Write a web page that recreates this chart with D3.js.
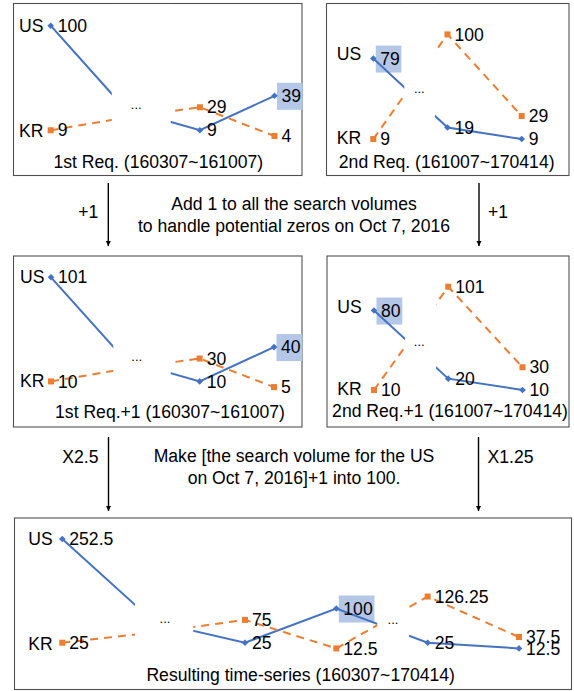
<!DOCTYPE html>
<html><head><meta charset="utf-8">
<script src="https://cdn.jsdelivr.net/npm/d3@7"></script>
<style>
body{margin:0;background:#fff}
svg{display:block}
text{font-family:"Liberation Sans",Arial,Helvetica,sans-serif;fill:#000}
</style>
</head><body>
<svg id="c" width="574" height="691"></svg>
<script>
// ---------- data ----------
const seriesNames = ["US", "KR"];
const panelTitles = [
  "1st Req. (160307~161007)",
  "2nd Req. (161007~170414)",
  "1st Req.+1 (160307~161007)",
  "2nd Req.+1 (161007~170414)",
  "Resulting time-series (160307~170414)"
];
// search volumes (points marked 0 in "shown" sit behind the "..." box)
const usReq1 = [100, 27.5, 9, 39];
const krReq1 = [9, 20, 29, 4];
const shownReq1 = [1, 0, 1, 1];
const usReq2 = [79, 19, 9];
const krReq2 = [9, 100, 29];
const shownReq2 = [1, 1, 1];
const usReq1p = [101, 28.5, 10, 40];
const krReq1p = [10, 21, 30, 5];
const usReq2p = [80, 20, 10];
const krReq2p = [10, 101, 30];
const usResult = [252.5, 71.25, 25, 100, 25, 12.5];
const krResult = [25, 47.5, 75, 12.5, 126.25, 37.5];
const shownResult = [1, 0, 1, 1, 1, 1];
const highlightIdx = [3, 0, 3, 0, 3];          // highlighted US point per panel
const stepLabelsLeft = ["+1", "X2.5"];
const stepLabelsRight = ["+1", "X1.25"];
const stepNotes = [
  ["Add 1 to all the search volumes", "to handle potential zeros on Oct 7, 2016"],
  ["Make [the search volume for the US", "on Oct 7, 2016]+1 into 100."]
];

// ---------- layout ----------
const colors = {US: "#4472C4", KR: "#ED7D31"};
const FS = 17.6;
const panels = [
  {box: [13.5, 3.5, 302, 175.5], x: [50.7, 274.5], yDom: [0, 100], yRng: [140.6, 25.7],
   us: usReq1, kr: krReq1, shown: shownReq1, gaps: [[0.818, 1.609, 1.147, 28.4]],
   labX: 19, labDy: [6, 6.5], title: [158.3, 168]},
  {box: [326.5, 3.5, 569, 175.5], x: [373.3, 521.7], yDom: [0, 100], yRng: [149.4, 34.4],
   us: usReq2, kr: krReq2, shown: shownReq2, gaps: [[0.418, 0.832, 0.62, 49.7]],
   labX: 336.7, labDy: [1.5, 4.5], title: [446.7, 168]},
  {box: [13.5, 256, 302, 427], x: [51, 274], yDom: [1, 101], yRng: [391.7, 277.3],
   us: usReq1p, kr: krReq1p, shown: shownReq1, gaps: [[0.838, 1.61, 1.153, 28.7]],
   labX: 20, labDy: [6, 6], title: [170, 418]},
  {box: [327, 256, 569, 427], x: [374, 522.5], yDom: [1, 101], yRng: [400.2, 286.7],
   us: usReq2p, kr: krReq2p, shown: shownReq2, gaps: [[0.418, 0.835, 0.61, 49.6]],
   labX: 337.3, labDy: [2.5, 5], title: [450, 416.5]},
  {box: [14.5, 518, 571.5, 689.5], x: [62.3, 519], yDom: [0, 252.5], yRng: [654.1, 539],
   us: usResult, kr: krResult, shown: shownResult,
   gaps: [[0.796, 1.434, 1.124, 71], [3.449, 3.796, 3.62, 67.5]],
   labX: 28.3, labDy: [6, 7], title: [300.7, 681]}
];

const svg = d3.select("#c");
svg.append("defs").append("marker")
  .attr("id", "ah").attr("viewBox", "0 0 10 10").attr("refX", 10).attr("refY", 5)
  .attr("markerWidth", 5.5).attr("markerHeight", 6.5).attr("orient", "auto")
  .attr("markerUnits", "userSpaceOnUse")
  .append("path").attr("d", "M0,0 L10,5 L0,10 Z").attr("fill", "#000");

const fmt = v => String(v);

panels.forEach((p, pi) => {
  const g = svg.append("g");
  const [bx0, by0, bx1, by1] = p.box;
  g.append("rect").attr("x", bx0).attr("y", by0).attr("width", bx1 - bx0).attr("height", by1 - by0)
    .attr("fill", "#fff").attr("stroke", "#505050").attr("stroke-width", 1.1);

  const n = p.us.length;
  const x = d3.scaleLinear().domain([0, n - 1]).range(p.x);
  const y = d3.scaleLinear().domain(p.yDom).range(p.yRng);

  const data = {US: p.us, KR: p.kr};

  // highlight box (drawn first, lines go over it)
  const hi = highlightIdx[pi];
  const hiLabel = g.append("text").attr("x", x(hi) + 7).attr("y", y(p.us[hi]))
    .attr("dy", "0.35em").attr("font-size", FS).text(fmt(p.us[hi])).attr("opacity", 0);
  const bb = hiLabel.node().getBBox();
  hiLabel.remove();
  g.append("rect").attr("x", bb.x - 4.5).attr("y", y(p.us[hi]) - 13)
    .attr("width", bb.width + 6).attr("height", 27).attr("fill", "#B4C7E7");

  // lines
  const line = d3.line().x((d, i) => x(i)).y(d => y(d));
  seriesNames.forEach(s => {
    g.append("path").datum(data[s]).attr("d", line).attr("fill", "none")
      .attr("stroke", colors[s]).attr("stroke-width", 2)
      .attr("stroke-dasharray", s === "KR" ? "8,6" : null);
  });
  // markers
  seriesNames.forEach(s => {
    data[s].forEach((v, i) => {
      if (!p.shown[i]) return;
      const cx = x(i), cy = y(v);
      if (s === "US") {
        g.append("path").attr("d", `M${cx},${cy - 3.3}L${cx + 3.3},${cy}L${cx},${cy + 3.3}L${cx - 3.3},${cy}Z`)
          .attr("fill", colors.US);
      } else {
        g.append("rect").attr("x", cx - 3).attr("y", cy - 3).attr("width", 6).attr("height", 6)
          .attr("fill", colors.KR);
      }
    });
  });
  // "..." boxes hiding the omitted period
  p.gaps.forEach(gp => {
    const gx0 = x(gp[0]), gx1 = x(gp[1]);
    g.append("rect").attr("x", gx0).attr("y", by0 + 1).attr("width", gx1 - gx0)
      .attr("height", p.title[1] - 17 - by0 - 1).attr("fill", "#fff");
    g.append("text").attr("x", x(gp[2])).attr("y", y(gp[3]) + 1).attr("text-anchor", "middle")
      .attr("font-size", 13).attr("fill", "#222").text("...");
  });
  // value labels
  seriesNames.forEach(s => {
    data[s].forEach((v, i) => {
      if (!p.shown[i]) return;
      g.append("text").attr("x", x(i) + 7).attr("y", y(v)).attr("dy", "0.35em")
        .attr("font-size", FS).text(fmt(v));
    });
  });
  // series names
  seriesNames.forEach((s, si) => {
    g.append("text").attr("x", p.labX).attr("y", y(data[s][0]) + p.labDy[si])
      .attr("font-size", FS).text(s);
  });
  // caption
  g.append("text").attr("x", p.title[0]).attr("y", p.title[1]).attr("text-anchor", "middle")
    .attr("font-size", FS).text(panelTitles[pi]);
});

// ---------- step arrows & notes ----------
const steps = [
  {y0: 183, y1: 246, lx: 108.3, rx: 479, labY: 218, noteY: [210, 232]},
  {y0: 437, y1: 511, lx: 108.5, rx: 478.5, labY: 463, noteY: [462, 484]}
];
steps.forEach((st, i) => {
  [st.lx, st.rx].forEach(ax => {
    svg.append("line").attr("x1", ax).attr("x2", ax).attr("y1", st.y0).attr("y2", st.y1)
      .attr("stroke", "#000").attr("stroke-width", 1.4).attr("marker-end", "url(#ah)");
  });
  svg.append("text").attr("x", st.lx - 10).attr("y", st.labY).attr("text-anchor", "end")
    .attr("font-size", FS).text(stepLabelsLeft[i]);
  svg.append("text").attr("x", st.rx + 9).attr("y", st.labY).attr("text-anchor", "start")
    .attr("font-size", FS).text(stepLabelsRight[i]);
  stepNotes[i].forEach((t, j) => {
    svg.append("text").attr("x", 294).attr("y", st.noteY[j]).attr("text-anchor", "middle")
      .attr("font-size", FS).text(t);
  });
});
</script>
</body></html>
